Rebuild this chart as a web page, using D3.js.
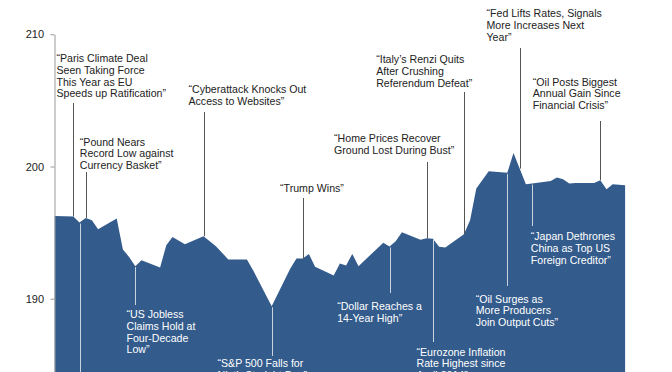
<!DOCTYPE html>
<html>
<head>
<meta charset="utf-8">
<script src="https://cdn.jsdelivr.net/npm/d3@7"></script>
<style>
  body { margin: 0; background: #fff; }
  svg { display: block; font-family: "Liberation Sans", Arial, sans-serif; }
  .axis path, .axis line { stroke: #999; }
  .axis text { font-size: 11px; fill: #222; }
</style>
</head>
<body>
<svg id="svg1" width="672" height="372"></svg>
<script>
// index level, daily
var dates = ["2016-09-30", "2016-10-03", "2016-10-04", "2016-10-05", "2016-10-06", "2016-10-07",
  "2016-10-10", "2016-10-11", "2016-10-12", "2016-10-13", "2016-10-14", "2016-10-17",
  "2016-10-18", "2016-10-19", "2016-10-21", "2016-10-24", "2016-10-26", "2016-10-28",
  "2016-10-31", "2016-11-01", "2016-11-04", "2016-11-07", "2016-11-08", "2016-11-09",
  "2016-11-10", "2016-11-11", "2016-11-14", "2016-11-15", "2016-11-16", "2016-11-17",
  "2016-11-18", "2016-11-22", "2016-11-23", "2016-11-24", "2016-11-25", "2016-11-28",
  "2016-11-29", "2016-11-30", "2016-12-01", "2016-12-02", "2016-12-05", "2016-12-06",
  "2016-12-07", "2016-12-09", "2016-12-12", "2016-12-13", "2016-12-15", "2016-12-16",
  "2016-12-19", "2016-12-20", "2016-12-21", "2016-12-22", "2016-12-23", "2016-12-26",
  "2016-12-27", "2016-12-28", "2016-12-29", "2016-12-31"];

var values = [196.26, 196.22, 195.76, 196.11, 195.94, 195.26,
  196.07, 193.72, 193.16, 192.46, 192.91, 192.36,
  194.05, 194.67, 194.12, 194.73, 193.97, 192.97,
  192.97, 192.16, 189.43, 192.28, 193.04, 193.04,
  193.38, 192.42, 191.75, 192.66, 192.51, 193.39,
  192.46, 194.24, 193.95, 194.35, 195.03, 194.46,
  194.58, 194.54, 193.93, 193.87, 194.88, 195.94,
  198.34, 199.64, 199.52, 201.03, 198.66, 198.71,
  198.91, 199.17, 199.04, 198.71, 198.76, 198.76,
  198.96, 198.28, 198.66, 198.59];

var yTicks = [180, 190, 200, 210];

// headlines
var noteDates = ["2016-10-03", "2016-10-05", "2016-10-24", "2016-11-09", "2016-11-29",
  "2016-12-05", "2016-12-14", "2016-12-27",
  "2016-10-04", "2016-10-13", "2016-11-04", "2016-11-23", "2016-11-30",
  "2016-12-12", "2016-12-16"];

var noteTexts = [
  ["\u201cParis Climate Deal", "Seen Taking Force", "This Year as EU", "Speeds up Ratification\u201d"],
  ["\u201cPound Nears", "Record Low against", "Currency Basket\u201d"],
  ["\u201cCyberattack Knocks Out", "Access to Websites\u201d"],
  ["\u201cTrump Wins\u201d"],
  ["\u201cHome Prices Recover", "Ground Lost During Bust\u201d"],
  ["\u201cItaly\u2019s Renzi Quits", "After Crushing", "Referendum Defeat\u201d"],
  ["\u201cFed Lifts Rates, Signals", "More Increases Next", "Year\u201d"],
  ["\u201cOil Posts Biggest", "Annual Gain Since", "Financial Crisis\u201d"],
  [],
  ["\u201cUS Jobless", "Claims Hold at", "Four-Decade", "Low\u201d"],
  ["\u201cS&P 500 Falls for", "Ninth Straight Day\u201d"],
  ["\u201cDollar Reaches a", "14-Year High\u201d"],
  ["\u201cEurozone Inflation", "Rate Highest since", "April 2014\u201d"],
  ["\u201cOil Surges as", "More Producers", "Join Output Cuts\u201d"],
  ["\u201cJapan Dethrones", "China as Top US", "Foreign Creditor\u201d"]
];

// where each headline sits: label offset from its line, first baseline, far end of the line
var noteLayout = [
  {below: false, dx: -17, y: 62, end: 103},
  {below: false, dx: -6.7, y: 145.5, end: 172},
  {below: false, dx: -16, y: 93, end: 112},
  {below: false, dx: -23.4, y: 191.5, end: 198},
  {below: false, dx: -93.4, y: 142, end: 162},
  {below: false, dx: -88.3, y: 63, end: 92},
  {below: false, dx: -34, y: 17, end: 48},
  {below: false, dx: -67.7, y: 85.5, end: 121},
  {below: true, dx: 0, y: 400, end: 390},
  {below: true, dx: -9, y: 318, end: 305},
  {below: true, dx: -55, y: 367, end: 356},
  {below: true, dx: -53.3, y: 310, end: 293},
  {below: true, dx: -17, y: 355.5, end: 342},
  {below: true, dx: -31.8, y: 302.5, end: 286},
  {below: true, dx: -1.7, y: 240, end: 226}
];

var parseDate = d3.utcParse("%Y-%m-%d");
var rows = dates.map(function(d, i) { return {date: parseDate(d), value: values[i]}; });

var svg = d3.select("body").select("svg#svg1");

var xScale = d3.scaleUtc()
  .domain([parseDate("2016-09-30"), parseDate("2016-12-31")])
  .range([54.7, 625.1]);

var yScale = d3.scaleLinear()
  .domain([180, 210])
  .range([430.9, 34.3]);

var area = d3.area()
  .x(function(d) { return xScale(d.date); })
  .y0(yScale(180))
  .y1(function(d) { return yScale(d.value); });

svg.append("path")
  .datum(rows)
  .attr("fill", "#335b8c")
  .attr("d", area);

var yAxis = d3.axisLeft(yScale)
  .tickValues(yTicks)
  .tickSize(4)
  .tickSizeOuter(0)
  .tickPadding(6.5)
  .tickFormat(d3.format("d"));

svg.append("g")
  .attr("class", "axis")
  .attr("transform", "translate(54.5, 0)")
  .call(yAxis);

// value under a date, straight between neighbours
var bisect = d3.bisector(function(d) { return d.date; }).left;
var valueAt = function(date) {
  var i = bisect(rows, date);
  if (i <= 0) return rows[0].value;
  if (i >= rows.length) return rows[rows.length - 1].value;
  var a = rows[i - 1], b = rows[i];
  var t = (date - a.date) / (b.date - a.date);
  return a.value + t * (b.value - a.value);
};

var notes = svg.append("g").attr("id", "notes");

noteDates.forEach(function(d, i) {
  var date = parseDate(d);
  var lay = noteLayout[i];
  var x = Math.round(xScale(date)) + 0.5;
  var top = yScale(valueAt(date));

  notes.append("line")
    .attr("x1", x)
    .attr("x2", x)
    .attr("y1", lay.below ? top + 1 : lay.end)
    .attr("y2", lay.below ? lay.end : top)
    .attr("stroke", lay.below ? "#c9d3df" : "#555")
    .attr("stroke-width", 1);

  var text = notes.append("text")
    .attr("x", x + lay.dx)
    .attr("y", lay.y)
    .attr("font-size", "10.6px")
    .attr("fill", lay.below ? "#fff" : "#222");

  text.selectAll("tspan")
    .data(noteTexts[i])
    .enter()
    .append("tspan")
    .attr("x", x + lay.dx)
    .attr("dy", function(t, j) { return j == 0 ? 0 : 11.75; })
    .text(function(t) { return t; });
});
</script>
</body>
</html>
